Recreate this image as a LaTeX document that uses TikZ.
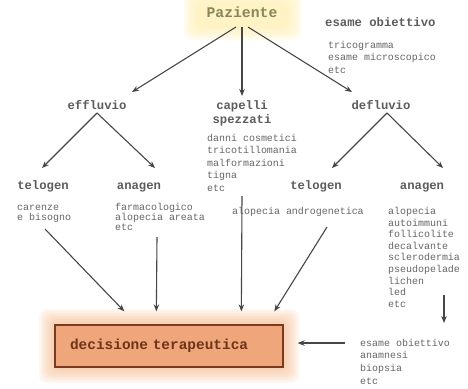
\documentclass[tikz,border=0pt]{standalone}
\usepackage{fontspec}
\setmonofont{Liberation Mono}
\usetikzlibrary{arrows.meta,calc}
\definecolor{labgray}{HTML}{5C5C5C}
\definecolor{smallgray}{HTML}{666666}
\definecolor{arrgray}{HTML}{464646}
\definecolor{pazcol}{HTML}{86865A}
\definecolor{glowy}{HTML}{FFF0B0}
\definecolor{boxfill}{HTML}{EFA67A}
\definecolor{boxdraw}{HTML}{7A3A20}
\definecolor{dectext}{HTML}{6E3418}
\definecolor{gloworange}{HTML}{F7B888}
\begin{document}
\begin{tikzpicture}[x=1bp,y=-1bp,
  lab/.style={font=\ttfamily\bfseries\fontsize{12.3}{13}\selectfont, text=labgray, inner sep=0pt, text height=1.5ex, text depth=0.3ex},
  small/.style={font=\ttfamily\fontsize{10}{10}\selectfont, text=smallgray, inner sep=0pt, align=left, anchor=base west},
  arr/.style={draw=arrgray, line width=1.1pt, -{Stealth[length=7bp,width=5.5bp]}},
]
\useasboundingbox[fill=white] (0,0) rectangle (468,388);

% glows
\foreach \i in {0,3,6,9,12}
  \fill[glowy, opacity=0.22, rounded corners=8] ({196-\i},{3-\i}) rectangle ({289+\i},{28+\i});
\foreach \i in {2,4,...,16}
  \fill[gloworange, opacity=0.11, rounded corners=8] ({55-\i},{325-\i}) rectangle ({283+\i},{367+\i});

% nodes (multi-line lists: base anchor = baseline of the last line)
\node[lab, font=\ttfamily\bfseries\fontsize{14.8}{16}\selectfont, text=pazcol] (paz) at (242,15) {Paziente};
\node[lab, anchor=west] (esob) at (325,24) {esame obiettivo};
\node[small, font=\ttfamily\fontsize{10}{12.5}\selectfont] (esobl) at (328,73) {tricogramma\\esame microscopico\\etc};

\node[lab] (eff) at (97,107) {effluvio};
\node[lab] (cap1) at (242,107) {capelli};
\node[lab] (cap2) at (242,121) {spezzati};
\node[small, font=\ttfamily\fontsize{10}{12.5}\selectfont] (capl) at (207,191) {danni cosmetici\\tricotillomania\\malformazioni\\tigna\\etc};
\node[lab] (def) at (381,107) {defluvio};

\node[lab] (tel1) at (43,187) {telogen};
\node[small, font=\ttfamily\fontsize{10}{10}\selectfont] (tel1l) at (17,220) {carenze\\e bisogno};
\node[lab] (ana1) at (139,187) {anagen};
\node[small, font=\ttfamily\fontsize{10}{10}\selectfont] (ana1l) at (115,230) {farmacologico\\alopecia areata\\etc};
\node[lab] (tel2) at (316,187) {telogen};
\node[small] (tel2l) at (232,214) {alopecia androgenetica};
\node[lab] (ana2) at (422,187) {anagen};
\node[small, font=\ttfamily\fontsize{10}{11.7}\selectfont] (ana2l) at (388,307.6) {alopecia\\autoimmuni\\follicolite\\decalvante\\sclerodermia\\pseudopelade\\lichen\\led\\etc};

\node[draw=boxdraw, fill=boxfill, line width=1.3pt, minimum width=228bp, minimum height=42bp,
      inner xsep=15bp, inner ysep=0pt, text width=198bp, align=left,
      font=\ttfamily\bfseries\fontsize{14.5}{16}\selectfont, text=dectext] (dec) at (169,346) {decisione terapeutica};
\node[small, font=\ttfamily\fontsize{10}{12.8}\selectfont] (esob2) at (360,384.4) {esame obiettivo\\anamnesi\\biopsia\\etc};

% connectors
\draw[arr] ($(paz)+(-6,12)$) -- ($(eff)+(35,-15)$);
\draw[arr] ($(paz)+(0,12)$) -- ($(cap1)+(0,-11)$);
\draw[arr] ($(paz)+(6,12)$) -- ($(def)+(-29,-15)$);

\draw[arr] ($(eff)+(0,6)$) -- ($(tel1)+(-1,-19)$);
\draw[arr] ($(eff)+(0,6)$) -- ($(ana1)+(16,-19)$);
\draw[arr] ($(def)+(6,6)$) -- ($(tel2)+(16,-19)$);
\draw[arr] ($(def)+(6,6)$) -- ($(ana2)+(21,-19)$);

\draw[arr] ($(tel1)+(2,42)$) -- ($(dec.north west)+(70,-13)$);
\draw[arr] ($(ana1)+(18,50)$) -- ($(dec.north west)+(102,-13)$);
\draw[arr] ($(cap2)+(0,75)$) -- ($(dec.north west)+(187,-13)$);
\draw[arr] ($(tel2)+(11,40)$) -- ($(dec.north west)+(220,-13)$);
\draw[arr] ($(ana2)+(22,108)$) -- ($(ana2)+(22,136)$);
\coordinate (c6s) at ($(esob2.north west)+(-15,4.3)$);
\coordinate (c6e) at ($(dec.east)+(14,0)$);
\draw[arr] (c6s) -- (c6s -| c6e);
\end{tikzpicture}
\end{document}
